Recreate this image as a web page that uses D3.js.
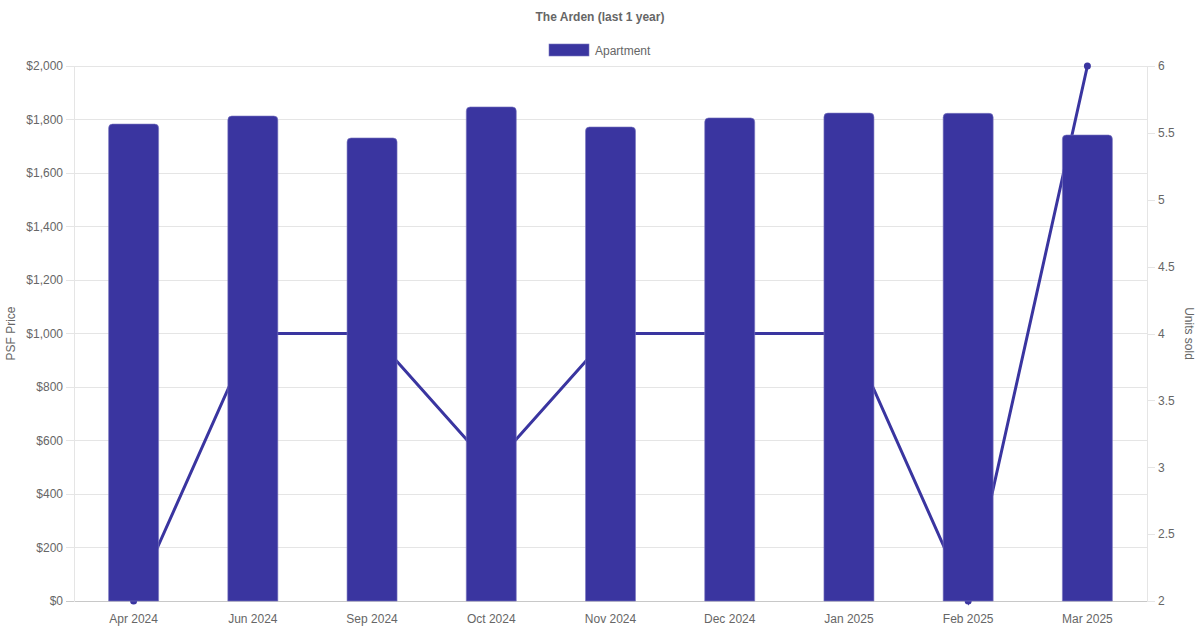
<html>
<head>
  <title>The Arden (last 1 year)</title>
  <script src="https://d3js.org/d3.v7.min.js"></script>
  <style>
    body { margin: 0; background: white; }
    text { font-family: "Liberation Sans", Arial, sans-serif; }
  </style>
</head>
<body>
<div id="chart"></div>
<script>
    // data
    var months = ["Apr 2024", "Jun 2024", "Sep 2024", "Oct 2024", "Nov 2024", "Dec 2024", "Jan 2025", "Feb 2025", "Mar 2025"];
    var psfPrice = [1783, 1813, 1731, 1847, 1772, 1806, 1824, 1823, 1742];
    var unitsSold = [2, 4, 4, 3, 4, 4, 4, 2, 6];
    var priceTicks = [0, 200, 400, 600, 800, 1000, 1200, 1400, 1600, 1800, 2000];
    var unitTicks = [2, 2.5, 3, 3.5, 4, 4.5, 5, 5.5, 6];

    var W = 1200, H = 630;
    var margin = {top: 66, right: 53, bottom: 29, left: 74};
    var width = W - margin.left - margin.right,
        height = H - margin.top - margin.bottom;
    var barColor = "#3a35a0";
    var textColor = "#666";

    var svg = d3.select("#chart").append("svg")
        .attr("width", W).attr("height", H);

    var chartArea = svg.append("g")
        .attr("transform", "translate(" + margin.left + "," + margin.top + ")");

    var x = d3.scaleBand().domain(months).range([0, width]);
    var y = d3.scaleLinear().domain([0, 2000]).range([height, 0]);
    var y1 = d3.scaleLinear().domain([2, 6]).range([height, 0]);

    // grid lines (left axis)
    chartArea.append("g")
        .selectAll("line")
        .data(priceTicks)
        .enter()
        .append("line")
        .attr("x1", -8).attr("x2", width)
        .attr("y1", d => y(d)).attr("y2", d => y(d))
        .style("stroke", d => d == 0 ? "#c8c8c8" : "#e5e5e5")
        .style("stroke-width", 1)
        .attr("shape-rendering", "crispEdges");

    // left axis
    var leftAxis = chartArea.append("g")
        .call(d3.axisLeft(y).tickValues(priceTicks).tickSize(0).tickPadding(11)
            .tickFormat(d => "$" + d3.format(",")(d)));
    leftAxis.select(".domain").style("stroke", "#e5e5e5").attr("shape-rendering", "crispEdges");
    leftAxis.selectAll("text").style("font-size", "12px").style("fill", textColor)
        .style("font-family", "'Liberation Sans', Arial, sans-serif");

    // right axis
    var rightAxis = chartArea.append("g")
        .attr("transform", "translate(" + width + ",0)")
        .call(d3.axisRight(y1).tickValues(unitTicks).tickSize(8).tickPadding(3)
            .tickFormat(d => d));
    rightAxis.select(".domain").style("stroke", "#e5e5e5").attr("shape-rendering", "crispEdges");
    rightAxis.selectAll(".tick line").style("stroke", "#e5e5e5").attr("shape-rendering", "crispEdges");
    rightAxis.selectAll("text").style("font-size", "12px").style("fill", textColor)
        .style("font-family", "'Liberation Sans', Arial, sans-serif");

    // bottom axis
    var bottomAxis = chartArea.append("g")
        .attr("transform", "translate(0," + height + ")")
        .call(d3.axisBottom(x).tickSize(0).tickPadding(13));
    bottomAxis.select(".domain").remove();
    bottomAxis.selectAll("text").style("font-size", "12px").style("fill", textColor)
        .style("font-family", "'Liberation Sans', Arial, sans-serif");

    // units sold line (drawn behind the bars)
    var lineData = months.map((m, i) => ({month: m, value: unitsSold[i]}));
    var line = d3.line()
        .x(d => x(d.month) + x.bandwidth() / 2)
        .y(d => y1(d.value));

    chartArea.append("path")
        .datum(lineData)
        .attr("d", line)
        .style("fill", "none")
        .style("stroke", barColor)
        .style("stroke-width", 3);

    chartArea.selectAll(".dot")
        .data(lineData)
        .enter()
        .append("circle")
        .attr("class", "dot")
        .attr("cx", d => x(d.month) + x.bandwidth() / 2)
        .attr("cy", d => y1(d.value))
        .attr("r", 3.5)
        .style("fill", barColor);

    // bars with rounded tops
    var barWidth = 50, r = 4;
    var barData = months.map((m, i) => ({month: m, value: psfPrice[i]}));
    chartArea.selectAll(".bar")
        .data(barData)
        .enter()
        .append("path")
        .attr("class", "bar")
        .attr("d", function(d) {
            var x0 = x(d.month) + x.bandwidth() / 2 - barWidth / 2;
            var x1 = x0 + barWidth;
            var yt = y(d.value), yb = y(0);
            return "M" + x0 + "," + yb +
                   "V" + (yt + r) +
                   "Q" + x0 + "," + yt + " " + (x0 + r) + "," + yt +
                   "H" + (x1 - r) +
                   "Q" + x1 + "," + yt + " " + x1 + "," + (yt + r) +
                   "V" + yb + "Z";
        })
        .style("fill", barColor)
        .style("stroke", "#7a77bf")
        .style("stroke-width", 0.6);

    // title
    svg.append("text")
        .attr("x", W / 2).attr("y", 21)
        .attr("text-anchor", "middle")
        .style("font-size", "12px")
        .style("font-weight", "bold")
        .style("fill", textColor)
        .text("The Arden (last 1 year)");

    // legend
    svg.append("rect")
        .attr("x", 549).attr("y", 44)
        .attr("width", 40).attr("height", 12)
        .style("fill", barColor)
        .style("stroke", "#7a77bf")
        .style("stroke-width", 0.6);
    svg.append("text")
        .attr("x", 595).attr("y", 55)
        .style("font-size", "12px")
        .style("fill", textColor)
        .text("Apartment");

    // axis titles
    svg.append("text")
        .attr("transform", "translate(15," + (margin.top + height / 2) + ") rotate(-90)")
        .attr("text-anchor", "middle")
        .style("font-size", "12px")
        .style("fill", textColor)
        .text("PSF Price");
    svg.append("text")
        .attr("transform", "translate(1185," + (margin.top + height / 2) + ") rotate(90)")
        .attr("text-anchor", "middle")
        .style("font-size", "12px")
        .style("fill", textColor)
        .text("Units sold");
</script>
</body>
</html>
